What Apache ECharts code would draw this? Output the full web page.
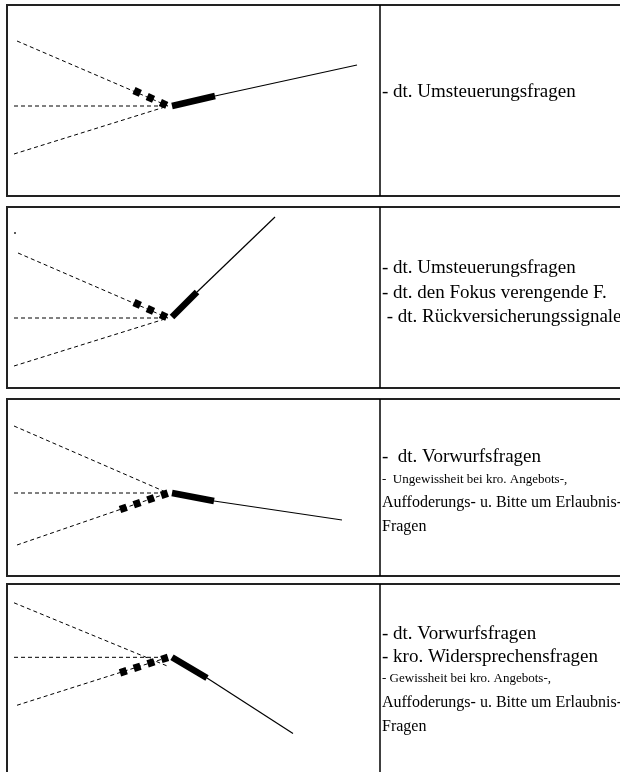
<!DOCTYPE html>
<html>
<head>
<meta charset="utf-8">
<script src="https://cdn.jsdelivr.net/npm/echarts@6/dist/echarts.min.js"></script>
<style>
html,body{margin:0;padding:0;background:#fff;}
#chart{width:620px;height:772px;}
</style>
</head>
<body>
<div id="chart"></div>
<script>
// ---- Data: pitch contours, x = time relative to nucleus onset, y = pitch relative to baseline ----
const upperDashed = [
  [[-153, 65], [-2, 0]],
  [[-152, 65], [-2, 0]],
  [[-156, 67], [-2, 0]],
  [[-156, 58], [-1, -10]]
];
const levelDashed = [
  [[-156, 0], [-2, 0]],
  [[-156, 0], [-2, 0]],
  [[-156, 0], [-2, 0]],
  [[-156, 0], [-2, 0]]
];
const lowerDashed = [
  [[-156, -48], [-2, 0]],
  [[-156, -48], [-2, 0]],
  [[-153, -52], [-2, 0]],
  [[-153, -51], [-2, 0]]
];
const prenuclearAccent = [
  [[-36, 15.5], [-2, 0]],
  [[-36, 15.5], [-2, 0]],
  [[-50, -16.5], [-2, 0]],
  [[-50, -16.5], [-2, 0]]
];
const nucleus = [
  [[2, 0], [45, 10]],
  [[2, 1], [27, 26]],
  [[2, 0], [44, -8]],
  [[2, 0], [37, -22]]
];
const tail = [
  [[45, 10], [187, 41]],
  [[27, 26], [105, 101]],
  [[44, -8], [172, -27]],
  [[37, -22], [123, -81]]
];
const strayPoint = [[-155, 85]]; // small dot in panel 2

// ---- Texts ----
const bigLines = [
  ["- dt. Umsteuerungsfragen"],
  ["- dt. Umsteuerungsfragen", "- dt. den Fokus verengende F.", " - dt. Rückversicherungssignale"],
  ["-  dt. Vorwurfsfragen"],
  ["- dt. Vorwurfsfragen", "- kro. Widersprechensfragen"]
];
const noteLines = [
  [],
  [],
  ["-  Ungewissheit bei kro. Angebots-,"],
  ["- Gewissheit bei kro. Angebots-,"]
];
const smallLines = [
  [],
  [],
  ["Auffoderungs- u. Bitte um Erlaubnis-", "Fragen"],
  ["Auffoderungs- u. Bitte um Erlaubnis-", "Fragen"]
];

// ---- Layout ----
const panelTop = [5, 207, 399, 584];
const panelHeight = [191, 181, 177, 200];
const baselineY = [106, 318, 493, 662];
const leftX = 7, dividerX = 380, junctionX = 170;
const bigLineY = [[92], [268, 293, 317], [457], [634, 657]];
const noteLineY = [[], [], [480], [679]];
const smallLineY = [[], [], [503, 527], [703, 727]];
const FONT = '"Liberation Serif", "Times New Roman", serif';

const grids = [], xAxes = [], yAxes = [], series = [], graphics = [];
function addText(t, y, size) {
  graphics.push({type: 'text', silent: true, z: 10, x: 382, y: y,
    style: {text: t, font: size + 'px ' + FONT, fill: '#000', verticalAlign: 'middle', align: 'left'}});
}
for (let i = 0; i < 4; i++) {
  grids.push({left: leftX, top: panelTop[i], width: dividerX - leftX, height: panelHeight[i], show: false});
  xAxes.push({gridIndex: i, type: 'value', show: false, min: leftX - junctionX, max: dividerX - junctionX,
    splitLine: {show: false}});
  yAxes.push({gridIndex: i, type: 'value', show: false, max: baselineY[i] - panelTop[i],
    min: baselineY[i] - panelTop[i] - panelHeight[i], splitLine: {show: false}});
  const base = {type: 'line', xAxisIndex: i, yAxisIndex: i, symbol: 'none', silent: true, animation: false, z: 3};
  [upperDashed, levelDashed, lowerDashed].forEach(arr => {
    series.push(Object.assign({}, base, {data: arr[i], lineStyle: {color: '#000', width: 1, type: [4, 3]}}));
  });
  series.push(Object.assign({}, base, {data: prenuclearAccent[i], lineStyle: {color: '#000', width: 7.5, type: [7, 7.5], cap: 'butt'}}));
  series.push(Object.assign({}, base, {data: nucleus[i], lineStyle: {color: '#000', width: 6.5, cap: 'butt'}}));
  series.push(Object.assign({}, base, {data: tail[i], lineStyle: {color: '#000', width: 1.2}}));
  if (i === 1) {
    series.push({type: 'scatter', xAxisIndex: i, yAxisIndex: i, data: strayPoint, symbol: 'rect', symbolSize: 2,
      itemStyle: {color: '#333'}, silent: true, animation: false});
  }
  // frames
  graphics.push({type: 'rect', silent: true, z: 10,
    shape: {x: leftX, y: panelTop[i], width: 640 - leftX, height: panelHeight[i]},
    style: {fill: null, stroke: '#222', lineWidth: 2}});
  graphics.push({type: 'line', silent: true, z: 10,
    shape: {x1: dividerX, y1: panelTop[i], x2: dividerX, y2: panelTop[i] + panelHeight[i]},
    style: {stroke: '#000', lineWidth: 1.5}});
  bigLines[i].forEach((t, k) => addText(t, bigLineY[i][k], 19));
  noteLines[i].forEach((t, k) => addText(t, noteLineY[i][k], 13));
  smallLines[i].forEach((t, k) => addText(t, smallLineY[i][k], 16));
}

const chart = echarts.init(document.getElementById('chart'));
chart.setOption({
  animation: false,
  backgroundColor: '#fff',
  grid: grids, xAxis: xAxes, yAxis: yAxes, series: series,
  graphic: graphics
});
</script>
</body>
</html>
